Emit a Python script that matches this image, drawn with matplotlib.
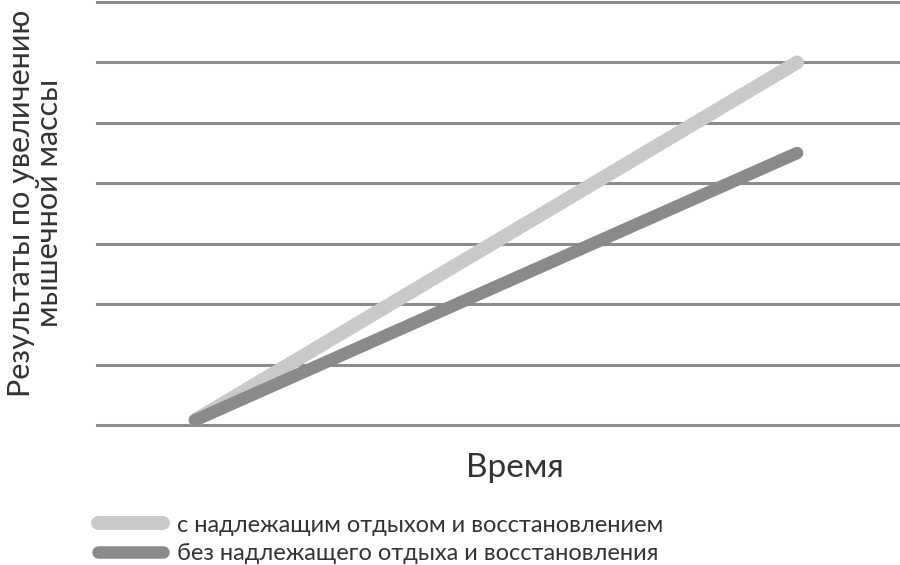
import matplotlib.pyplot as plt

# data
times = [0, 1]
with_rest = [0.08, 6.0]
without_rest = [0.08, 4.5]
grid_levels = [0, 1, 2, 3, 4, 5, 6, 7]
labels = ["с надлежащим отдыхом и восстановлением",
          "без надлежащего отдыха и восстановления"]

plt.rcParams["font.family"] = ["Lato", "DejaVu Sans"]

fig = plt.figure(figsize=(9, 5.65), dpi=100)
ax = fig.add_axes([0.1078, 0.2478, 0.8922, 0.7487])

for g in grid_levels:
    ax.axhline(g, color="#8c8c8c", lw=2.2, clip_on=False, zorder=1)

ax.plot(times, with_rest, color="#c9c9c9", lw=10, solid_capstyle="round",
        label=labels[0], zorder=3)
ax.plot(times, without_rest, color="#8a8a8a", lw=9, solid_capstyle="round",
        label=labels[1], zorder=4)

ax.set_xlim(-0.163, 1.171)
ax.set_ylim(0, 7)
ax.set_xticks([])
ax.set_yticks([])
for s in ax.spines.values():
    s.set_visible(False)

fig.text(0.572, 0.172, "Время", fontsize=24, color="#333333", ha="center", va="center")
fig.text(0.039, 0.64, "Результаты по увеличению\nмышечной массы", fontsize=22,
         color="#333333", rotation=90, ha="center", va="center", linespacing=1.0)

ax.legend(loc="upper left", bbox_to_anchor=(0.109, 0.089), bbox_transform=fig.transFigure,
          frameon=False, fontsize=17, handlelength=2.75, handletextpad=0.6,
          labelspacing=0.3, borderaxespad=0, borderpad=0, labelcolor="#333333")

fig.savefig("out.png", dpi=100)
